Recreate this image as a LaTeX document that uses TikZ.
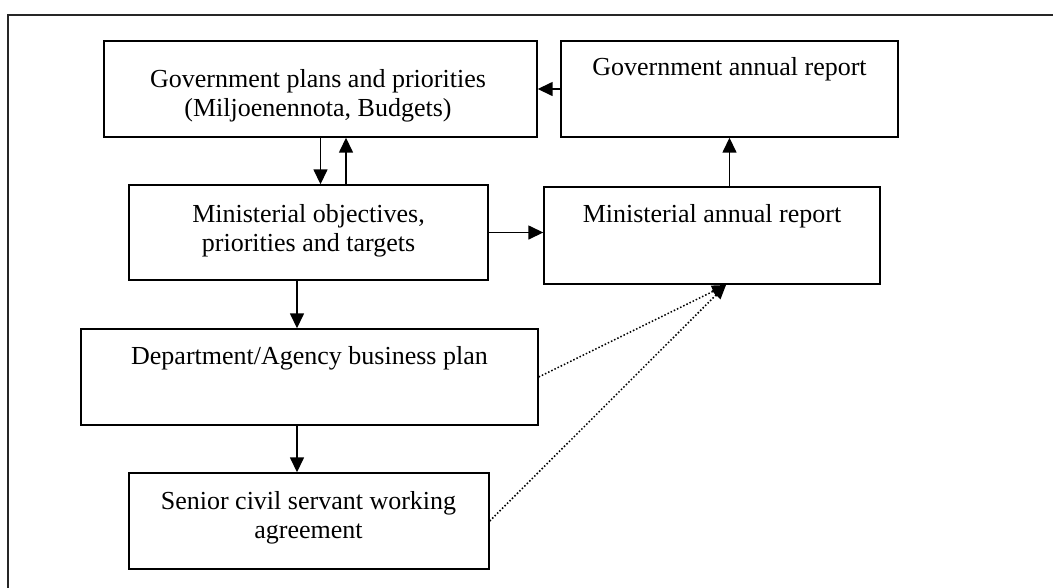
\documentclass[tikz,border=0pt]{standalone}
\usepackage{fontspec}
\setmainfont{Liberation Serif}
\usetikzlibrary{arrows.meta,calc}
\begin{document}
\begin{tikzpicture}[x=1pt,y=-1pt,
  box/.style={draw=black,line width=1.4pt,rectangle,inner sep=0pt},
  lbl/.style={anchor=north,inner sep=0pt,align=center,font=\fontsize{26}{29}\selectfont},
  arr/.style={line width=1.5pt,-{Triangle[length=15pt,width=14pt]}},
  dot/.style={line width=1.5pt,dotted,-{Triangle[length=14pt,width=12pt]}}]
\useasboundingbox (0,0) rectangle (1053,587);
\clip (0,0) rectangle (1053,587);
\fill[white] (0,0) rectangle (1053,587);
% outer frame
\draw[line width=1.6pt,black!85] (8,620) -- (8,15) -- (1080,15);
% boxes
\node[box,minimum width=433pt,minimum height=96pt] (b1) at (320.5,89) {};
\node[box,minimum width=337pt,minimum height=96pt] (b2) at (729.5,89) {};
\node[box,minimum width=359pt,minimum height=95pt] (b3) at (308.5,232.5) {};
\node[box,minimum width=336pt,minimum height=97pt] (b4) at (712,235.5) {};
\node[box,minimum width=457pt,minimum height=96pt] (b5) at (309.5,377) {};
\node[box,minimum width=360pt,minimum height=96pt] (b6) at (309,521) {};
% texts
\node[lbl] (t1) at (318,69) {Government plans and priorities\\(Miljoenennota, Budgets)};
\node[lbl] (t2) at (729.5,57) {Government annual report};
\node[lbl] (t3) at (308.5,204) {Ministerial objectives,\\priorities and targets};
\node[lbl] (t4) at (712,204) {Ministerial annual report};
\node[lbl] (t5) at (309.5,346) {Department/Agency business plan};
\node[lbl] (t6) at (308.5,491) {Senior civil servant working\\agreement};
% connectors
\coordinate (up1) at (346,0);
\coordinate (conv) at (726,285);
\draw[arr] (b2.west) -- (b1.east);
\draw[arr] (b1.south) -- (b1.south |- b3.north);
\draw[arr] (up1 |- b3.north) -- (up1 |- b1.south);
\draw[arr] (b3.east) -- (b3.east -| b4.west);
\draw[arr] (b4.north -| b2.south) -- (b2.south);
\draw[arr] (b3.south -| 297,0) -- (b5.north -| 297,0);
\draw[arr] (b5.south -| 297,0) -- (b6.north -| 297,0);
\draw[dot] (b5.east) -- (conv);
\draw[dot] (b6.east) -- (conv);
\end{tikzpicture}
\end{document}
